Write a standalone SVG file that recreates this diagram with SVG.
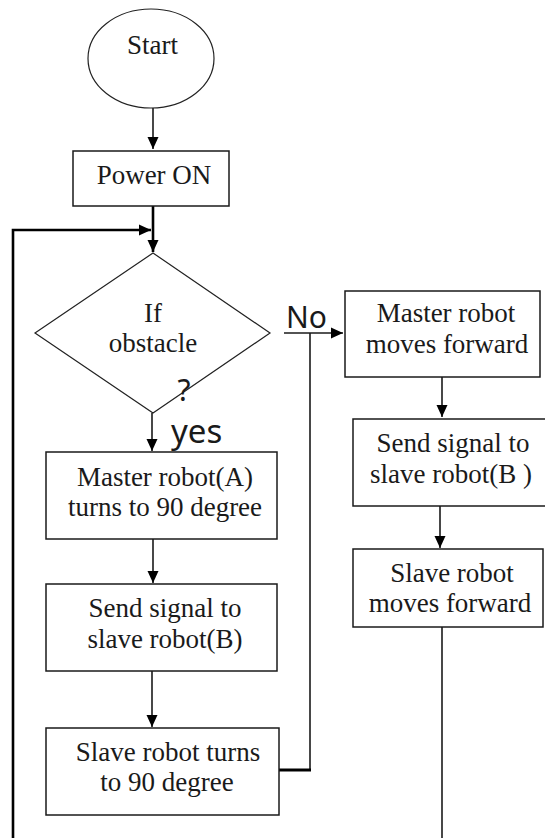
<svg xmlns="http://www.w3.org/2000/svg" width="545" height="838" viewBox="0 0 545 838">
  <style>
    .shape { fill: #ffffff; stroke: #1a1a1a; stroke-width: 1.5; }
    .outline { fill: #ffffff; stroke: #222222; stroke-width: 1.2; }
    .label { font-family: "Liberation Serif", "Times New Roman", serif; font-size: 27px; fill: #1a1a1a; text-anchor: middle; }
    .tag { font-family: "Noto Sans", "Open Sans", sans-serif; fill: #1a1a1a; }
    .wire { fill: none; stroke: #1a1a1a; stroke-width: 1.6; }
    .wire-bold { fill: none; stroke: #000000; stroke-width: 2.6; }
  </style>
  <defs>
    <marker id="head" markerUnits="userSpaceOnUse" markerWidth="12" markerHeight="12" viewBox="0 0 12 12" refX="12" refY="6" orient="auto">
      <path d="M0,0.5 L12,6 L0,11.5 Z" fill="#000000"/>
    </marker>
  </defs>

  <rect width="545" height="838" fill="#ffffff"/>

  <!-- connectors -->
  <g id="connectors">
    <line class="wire" x1="153" y1="108" x2="153" y2="149" marker-end="url(#head)"/>
    <line class="wire-bold" x1="153" y1="206" x2="153" y2="252" marker-end="url(#head)"/>
    <polyline class="wire-bold" points="13,838 13,230 151,230" marker-end="url(#head)"/>
    <line class="wire" x1="152" y1="413" x2="152" y2="451" marker-end="url(#head)"/>
    <line class="wire" x1="153" y1="539" x2="153" y2="583" marker-end="url(#head)"/>
    <line class="wire" x1="152" y1="671" x2="152" y2="727" marker-end="url(#head)"/>
    <line class="wire" x1="284" y1="333" x2="343" y2="333" marker-end="url(#head)"/>
    <polyline class="wire" points="310,333 310,770"/>
    <line class="wire-bold" x1="279" y1="770" x2="311" y2="770" style="stroke-width:3"/>
    <line class="wire" x1="442" y1="377" x2="442" y2="417" marker-end="url(#head)"/>
    <line class="wire" x1="440" y1="506" x2="440" y2="548" marker-end="url(#head)"/>
    <line class="wire" x1="442" y1="627" x2="442" y2="838"/>
  </g>

  <!-- start -->
  <g id="start">
    <ellipse class="outline" cx="151" cy="58.5" rx="63" ry="49.5"/>
    <text class="label" x="152.5" y="54">Start</text>
  </g>

  <!-- power on -->
  <g id="power-on">
    <rect class="shape" x="73" y="151" width="156" height="55"/>
    <text class="label" x="154" y="184">Power ON</text>
  </g>

  <!-- decision -->
  <g id="obstacle-check">
    <polygon class="outline" points="153,253 270,333 153,413 35,333"/>
    <text class="label" x="153" y="322">If</text>
    <text class="label" x="153" y="352">obstacle</text>
    <text class="tag" x="184" y="401" font-size="30" text-anchor="middle">?</text>
    <text class="tag" x="286" y="328" font-size="30">No</text>
    <text class="tag" x="171" y="443" font-size="33">yes</text>
  </g>

  <!-- yes branch -->
  <g id="master-turns">
    <rect class="shape" x="46" y="452" width="231" height="87"/>
    <text class="label" x="165" y="486">Master robot(A)</text>
    <text class="label" x="165" y="516">turns to 90 degree</text>
  </g>

  <g id="signal-left">
    <rect class="shape" x="46" y="584" width="231" height="87"/>
    <text class="label" x="165" y="617">Send signal to</text>
    <text class="label" x="165" y="648">slave robot(B)</text>
  </g>

  <g id="slave-turns">
    <rect class="shape" x="46" y="728" width="233" height="87"/>
    <text class="label" x="168" y="761">Slave robot turns</text>
    <text class="label" x="167" y="791">to 90 degree</text>
  </g>

  <!-- no branch -->
  <g id="master-forward">
    <rect class="shape" x="345" y="291" width="195" height="86"/>
    <text class="label" x="446" y="322">Master robot</text>
    <text class="label" x="447" y="353">moves forward</text>
  </g>

  <g id="signal-right">
    <rect class="shape" x="353" y="419" width="194" height="87"/>
    <text class="label" x="453" y="452">Send signal to</text>
    <text class="label" x="451" y="483">slave robot(B )</text>
  </g>

  <g id="slave-forward">
    <rect class="shape" x="353" y="549" width="190" height="78"/>
    <text class="label" x="452" y="582">Slave robot</text>
    <text class="label" x="450" y="612">moves forward</text>
  </g>
</svg>
